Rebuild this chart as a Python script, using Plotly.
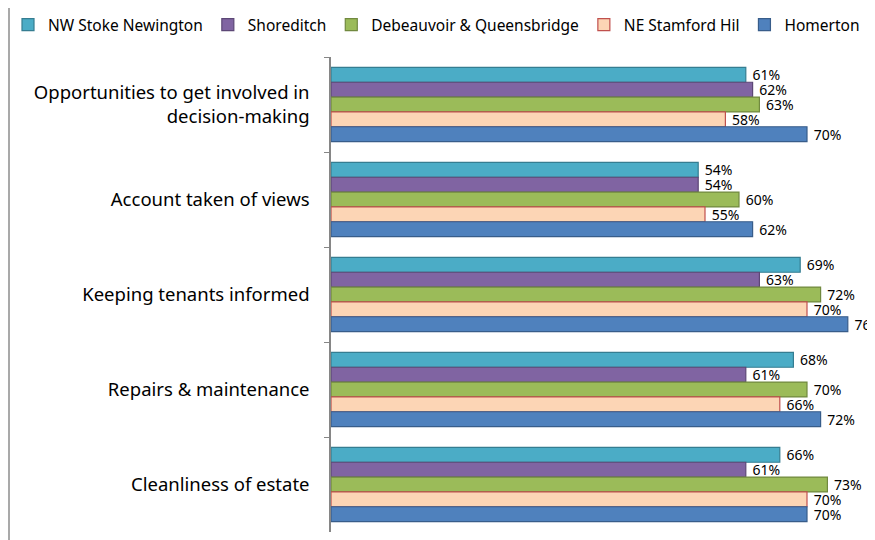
import plotly.graph_objects as go

categories = ["Opportunities to get involved in<br>decision-making", "Account taken of views",
              "Keeping tenants informed", "Repairs & maintenance", "Cleanliness of estate"]
series_names = ["NW Stoke Newington", "Shoreditch", "Debeauvoir & Queensbridge", "NE Stamford Hil", "Homerton"]
nw_stoke = [61, 54, 69, 68, 66]
shoreditch = [62, 54, 63, 61, 61]
debeauvoir = [63, 60, 72, 70, 73]
ne_stamford = [58, 55, 70, 66, 70]
homerton = [70, 62, 76, 72, 70]
values = [nw_stoke, shoreditch, debeauvoir, ne_stamford, homerton]

fills = ["#4BACC6", "#8064A2", "#9BBB59", "#FCD5B5", "#4F81BD"]
borders = ["#357D91", "#5C4776", "#71893F", "#C0504D", "#385D8A"]

FONT = "Noto Sans"
# the page body has an 8px margin, so figure coordinates are page coordinates minus 8
W, H = 875, 540
L, R, T, B = 323, 8, 49, 16
PW, PH = W - L - R, H - T - B

fig = go.Figure()
for name, vals, fc, bc in zip(series_names, values, fills, borders):
    fig.add_trace(go.Bar(
        y=categories, x=vals, name=name, orientation="h",
        marker=dict(color=fc, line=dict(color=bc, width=1.2)),
        text=[f" {v}%" for v in vals], textposition="outside",
        textfont=dict(family=FONT, size=14, color="#000"),
        constraintext="none", cliponaxis=False,
    ))

fig.update_layout(
    width=W, height=H, barmode="group", bargap=0.22, bargroupgap=0,
    plot_bgcolor="white", paper_bgcolor="white",
    margin=dict(l=L, r=R, t=T, b=B, autoexpand=False),
    font=dict(family=FONT, size=15, color="#000"),
    showlegend=True,
    legend=dict(orientation="h", x=(0 - L) / PW, xanchor="left", y=1 + (T - 17) / PH, yanchor="middle",
                font=dict(family=FONT, size=15.5), itemwidth=30, tracegroupgap=0,
                traceorder="normal", bgcolor="rgba(0,0,0,0)"),
    xaxis=dict(range=[0, 80], visible=False, showgrid=False),
    yaxis=dict(autorange="reversed", showline=True, linecolor="#868686", linewidth=1.5,
               ticks="outside", ticklen=5, tickcolor="#868686", tickson="boundaries",
               ticklabelstandoff=16, showgrid=False,
               tickfont=dict(family=FONT, size=18.5, color="#000")),
    shapes=[
        dict(type="line", xref="paper", yref="paper", x0=(1 - L) / PW, x1=(1 - L) / PW,
             y0=-B / PH, y1=1 + T / PH, line=dict(color="#8C8C8C", width=1.5)),
    ],
)
fig.write_html("out.html")
